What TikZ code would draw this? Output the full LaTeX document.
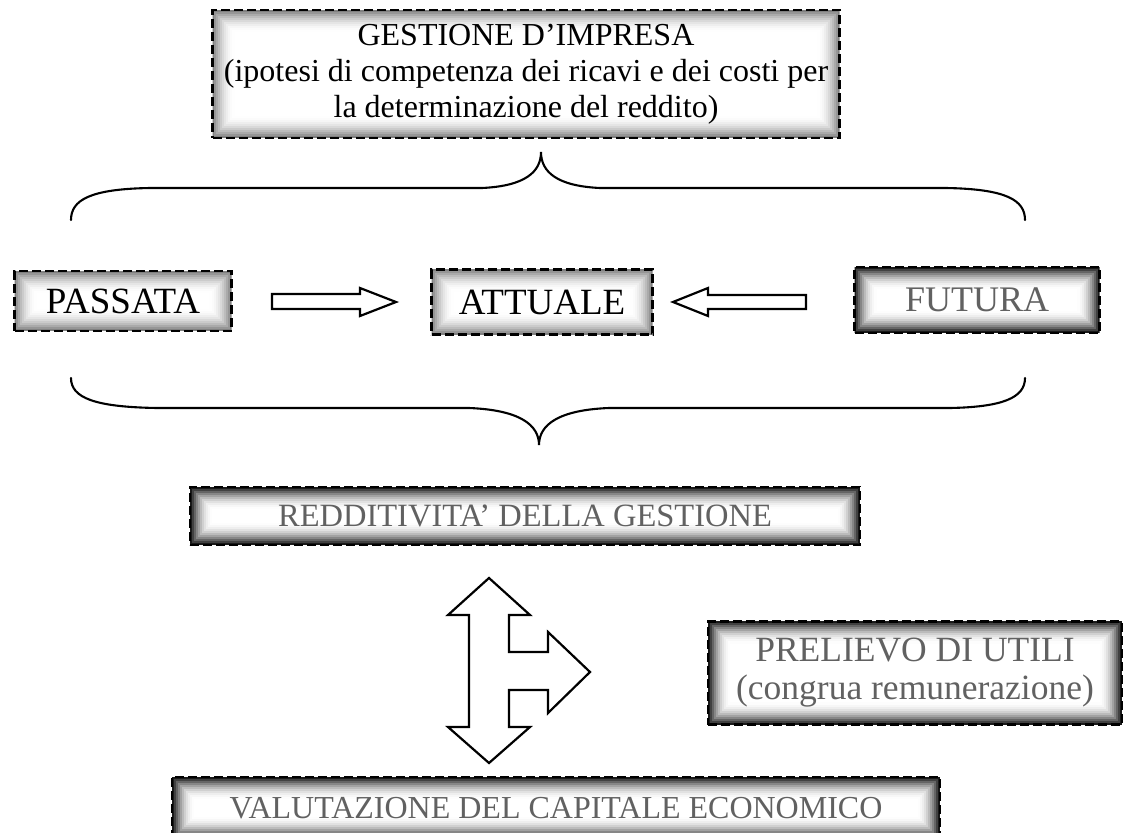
\documentclass[tikz,border=0pt]{standalone}
\usepackage{fontspec}
\setmainfont{Liberation Serif}
\usepackage{amsmath}
\usepackage{xcolor}

\begin{document}
\begin{tikzpicture}[x=1pt,y=-1pt,
  glow/.style={path picture={
    \foreach \k [evaluate=\k as \g using {#1*(1-\k/11)^2}] in {0,...,10}
      \draw[solid, line width=2.3pt, black!\g]
        ([shift={(\k*2pt+1pt,-\k*2pt-1pt)}]path picture bounding box.north west) rectangle
        ([shift={(-\k*2pt-1pt,\k*2pt+1pt)}]path picture bounding box.south east);
  }},
  box/.style={draw=black, line width=2.4pt, dash pattern=on 9pt off 4pt, fill=white, align=center, inner sep=0pt},
  lightbox/.style={box, glow=50, text=black},
  darkbox/.style={box, glow=90, text=black!62},
  blockarrow/.style={draw=black, line width=2.2pt, fill=white, line join=miter},
  brace/.style={draw=black, line width=2.1pt, line cap=round}]
        \useasboundingbox (0,0) rectangle (1126,832);
        \node[lightbox, minimum width=627pt, minimum height=128pt, font=\fontsize{32}{36}\selectfont] (gest) at (526,74) {GESTIONE D'IMPRESA\\(ipotesi di competenza dei ricavi e dei costi per\\la determinazione del reddito)};
        \node[lightbox, minimum width=217pt, minimum height=60pt, font=\fontsize{37}{38}\selectfont] (pass) at (123,301) {PASSATA};
        \node[lightbox, minimum width=221pt, minimum height=65pt, font=\fontsize{37}{38}\selectfont] (att) at (542,302) {ATTUALE};
        \node[darkbox, minimum width=245pt, minimum height=66pt, font=\fontsize{36}{38}\selectfont] (fut) at (977,300) {FUTURA};
        \node[darkbox, minimum width=670pt, minimum height=58pt, font=\fontsize{32.5}{34}\selectfont] (redd) at (525,516) {REDDITIVITA' DELLA GESTIONE};
        \node[darkbox, minimum width=414pt, minimum height=103pt, font=\fontsize{35.5}{38}\selectfont] (prel) at (915,673) {PRELIEVO DI UTILI\\(congrua remunerazione)};
        \node[darkbox, minimum width=768pt, minimum height=62pt, font=\fontsize{32}{33}\selectfont] (val) at (556,808) {VALUTAZIONE DEL CAPITALE ECONOMICO};
        % braces
        \draw[brace] (71,220) .. controls (71,200) and (90,189) .. (150,188) -- (482,188)
          .. controls (525,186) and (541,172) .. (541,152)
          .. controls (541,172) and (557,186) .. (600,188) -- (946,188)
          .. controls (1006,189) and (1025,200) .. (1025,220);
        \draw[brace] (71,378) .. controls (71,398) and (95,407) .. (157,408) -- (469,408)
          .. controls (520,410) and (539,425) .. (539,445)
          .. controls (539,425) and (558,410) .. (609,408) -- (950,408)
          .. controls (1002,407) and (1025,398) .. (1025,378);
        % block arrows
        \draw[blockarrow] (272,294) -- (360,294) -- (360,288) -- (396,302) -- (360,316) -- (360,309) -- (272,309) -- cycle;
        \draw[blockarrow] (806,295) -- (708,295) -- (708,288) -- (673,302) -- (708,316) -- (708,309) -- (806,309) -- cycle;
        \draw[blockarrow] (489,578) -- (530,615) -- (509,615) -- (509,652) -- (548,652) -- (548,632) -- (590,672)
          -- (548,713) -- (548,690) -- (509,690) -- (509,727) -- (530,727) -- (489,763) -- (448,727)
          -- (469,727) -- (469,615) -- (448,615) -- cycle;
\end{tikzpicture}
\end{document}
